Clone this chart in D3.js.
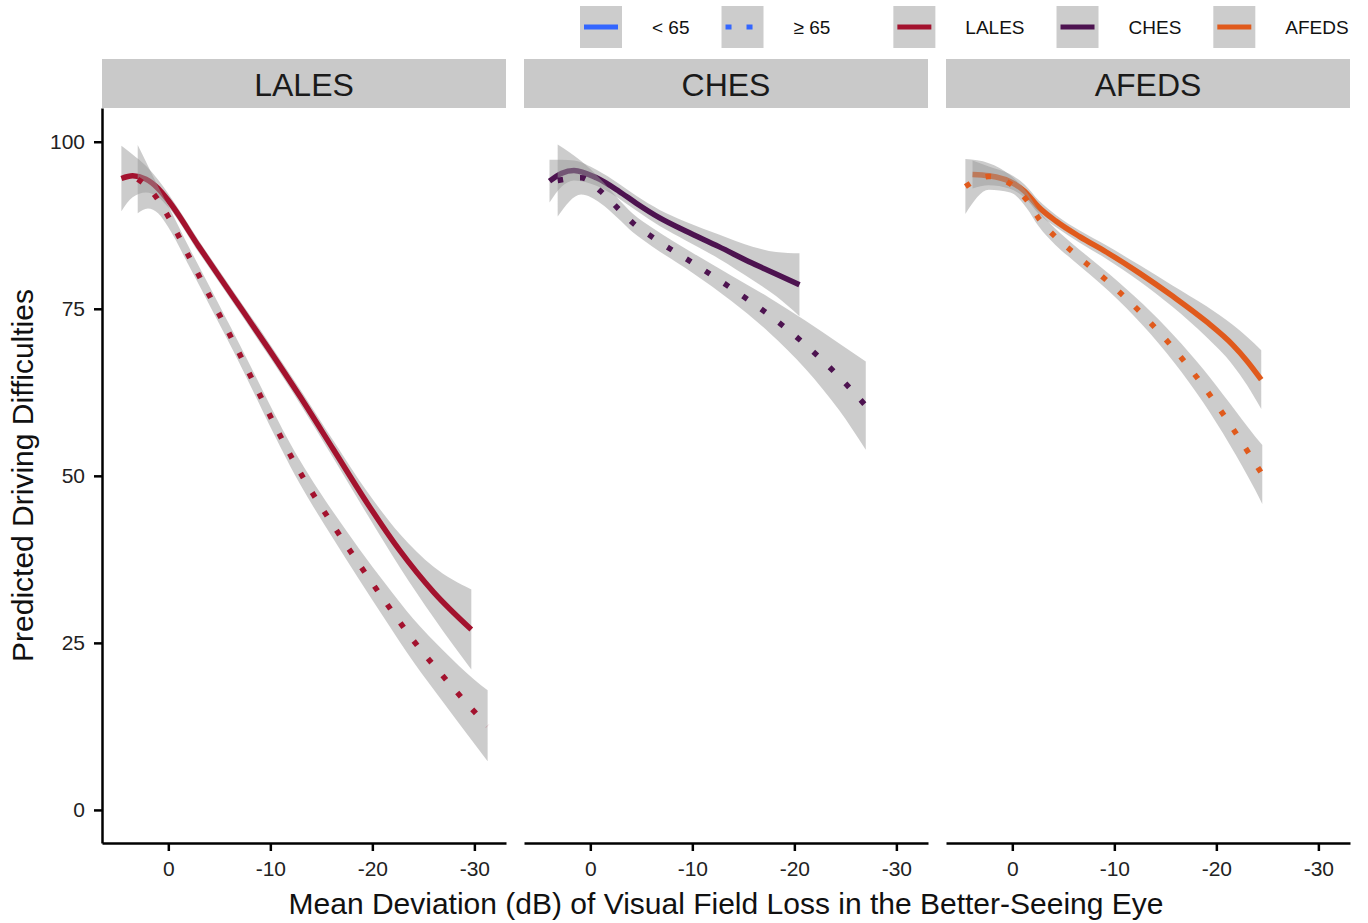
<!DOCTYPE html>
<html>
<head>
<meta charset="utf-8">
<script src="https://cdn.jsdelivr.net/npm/d3@7"></script>
<style>
  html, body { margin: 0; padding: 0; background: #ffffff; }
  svg { display: block; font-family: "Liberation Sans", Arial, Helvetica, sans-serif; }
</style>
</head>
<body>
<svg id="chart" width="1368" height="923"></svg>
<script>
// ---- data ---------------------------------------------------------------
const studies = ["LALES", "CHES", "AFEDS"];
const studyColors = ["#a3122e", "#4d1350", "#e05a1c"];
const ageGroups = ["< 65", "\u2265 65"];
const mdTicks = [0, -10, -20, -30];
const scoreTicks = [0, 25, 50, 75, 100];

// LALES, age < 65
const lalesYoungMD  = [4.6, 3.5, 2.2, 1.0, 0, -3, -6.4, -9.7, -12.9, -16.2, -19.5, -22.7, -26, -29.7];
const lalesYoungFit = [94.5, 94.9, 94.4, 93.0, 91.2, 84.3, 76.7, 69.3, 61.9, 53.9, 45.9, 38.8, 32.6, 27.0];
const lalesYoungSE  = [4.9, 3.2, 2.0, 1.3, 1.0, 0.9, 0.9, 1.0, 1.1, 1.3, 1.7, 2.5, 3.8, 6.0];
// LALES, age >= 65
const lalesOldMD  = [3.0, 2.0, 1.0, 0, -2.1, -4.4, -6.4, -8.4, -10.4, -12, -13.7, -16.2, -18.7, -21.3, -24, -27, -30, -31.3];
const lalesOldFit = [94.4, 93.2, 91.3, 88.8, 82.6, 75.9, 70.0, 63.9, 57.7, 53.0, 48.5, 42.5, 36.8, 31.1, 25.4, 19.9, 14.7, 12.6];
const lalesOldSE  = [5.1, 3.2, 2.0, 1.6, 1.4, 1.4, 1.4, 1.5, 1.6, 1.7, 1.8, 2.0, 2.3, 2.7, 3.2, 3.9, 4.8, 5.3];

// CHES, age < 65
const chesYoungMD  = [4.0, 2.8, 1.6, -0.6, -2.8, -4.5, -6.8, -9.4, -12.6, -15.9, -18.2, -20.5];
const chesYoungFit = [94.1, 95.3, 95.7, 94.6, 92.6, 90.8, 88.6, 86.6, 84.3, 81.8, 80.2, 78.6];
const chesYoungSE  = [3.2, 2.0, 1.5, 1.2, 1.1, 1.1, 1.2, 1.4, 1.8, 2.5, 3.3, 4.7];
// CHES, age >= 65
const chesOldMD  = [3.2, 0.9, -1.0, -2.6, -4.2, -6.1, -10, -13.8, -17.5, -21.1, -24.4, -27];
const chesOldFit = [94.2, 94.6, 92.6, 90.2, 87.8, 85.7, 81.9, 78.1, 74.1, 69.6, 64.8, 60.5];
const chesOldSE  = [5.4, 2.5, 1.8, 1.5, 1.4, 1.4, 1.5, 1.9, 2.6, 3.6, 5.0, 6.6];

// AFEDS, age < 65
const afedsYoungMD  = [3.9, 2.3, 0.3, -1.2, -2.6, -4.3, -6.6, -9.2, -12.5, -15.7, -19.0, -21.6, -23.0, -24.4];
const afedsYoungFit = [95.1, 94.9, 94.1, 92.6, 90.2, 88.1, 85.8, 83.5, 80.3, 76.9, 73.1, 69.6, 67.2, 64.4];
const afedsYoungSE  = [2.1, 1.4, 1.1, 1.0, 1.0, 0.9, 0.9, 1.0, 1.2, 1.6, 2.3, 3.0, 3.6, 4.4];
// AFEDS, age >= 65
const afedsOldMD  = [4.6, 2.3, 0.2, -1.4, -2.6, -4.2, -6.0, -9.5, -12.8, -15.9, -18.7, -21.3, -23.8, -24.5];
const afedsOldFit = [93.3, 94.8, 93.7, 91.3, 88.5, 85.8, 83.4, 78.9, 74.1, 68.9, 63.5, 57.8, 51.9, 50.2];
const afedsOldSE  = [4.1, 2.0, 1.3, 1.2, 1.2, 1.2, 1.2, 1.3, 1.6, 2.0, 2.5, 3.1, 4.0, 4.4];

// ---- assemble per-panel series -------------------------------------------
function series(md, fit, se) {
  return md.map((m, i) => ({ md: m, fit: fit[i], lo: fit[i] - se[i], hi: fit[i] + se[i] }));
}
const panels = [
  { study: studies[0], color: studyColors[0],
    young: series(lalesYoungMD, lalesYoungFit, lalesYoungSE),
    old: series(lalesOldMD, lalesOldFit, lalesOldSE) },
  { study: studies[1], color: studyColors[1],
    young: series(chesYoungMD, chesYoungFit, chesYoungSE),
    old: series(chesOldMD, chesOldFit, chesOldSE) },
  { study: studies[2], color: studyColors[2],
    young: series(afedsYoungMD, afedsYoungFit, afedsYoungSE),
    old: series(afedsOldMD, afedsOldFit, afedsOldSE) }
];

// ---- layout --------------------------------------------------------------
const svg = d3.select("#chart");
const panelLeft = 102, panelWidth = 404, panelGap = 18;
const plotTop = 108, plotBottom = 843;
const stripTop = 59;
const font = "\"Liberation Sans\", Arial, Helvetica, sans-serif";

const yScale = d3.scaleLinear().domain([-4.95, 105.05]).range([plotBottom, plotTop]);

const ribbonFill = "#999999", ribbonOpacity = 0.5;
const lineWidth = 5.5;
const dotted = "5.5,17";

panels.forEach((p, i) => {
  const x0 = panelLeft + i * (panelWidth + panelGap);
  const xScale = d3.scaleLinear().domain([6.5, -33.1]).range([x0, x0 + panelWidth]);
  const g = svg.append("g");

  // facet strip
  g.append("rect")
    .attr("x", x0).attr("y", stripTop)
    .attr("width", panelWidth).attr("height", plotTop - stripTop)
    .attr("fill", "#c9c9c9");
  g.append("text")
    .attr("x", x0 + panelWidth / 2).attr("y", (stripTop + plotTop) / 2 + 1)
    .attr("text-anchor", "middle").attr("dominant-baseline", "central")
    .attr("font-size", 32).attr("fill", "#1a1a1a")
    .text(p.study);

  const area = d3.area()
    .x(d => xScale(d.md)).y0(d => yScale(d.lo)).y1(d => yScale(d.hi))
    .curve(d3.curveMonotoneX);
  const line = d3.line()
    .x(d => xScale(d.md)).y(d => yScale(d.fit))
    .curve(d3.curveMonotoneX);

  // each age group: confidence band, then fitted curve
  [["young", null], ["old", dotted]].forEach(([key, dash]) => {
    g.append("path").datum(p[key])
      .attr("d", area)
      .attr("fill", ribbonFill).attr("fill-opacity", ribbonOpacity);
    g.append("path").datum(p[key])
      .attr("d", line)
      .attr("fill", "none").attr("stroke", p.color)
      .attr("stroke-width", lineWidth)
      .attr("stroke-linecap", "butt")
      .attr("stroke-dasharray", dash);
  });

  // x axis
  const xAxis = g.append("g")
    .attr("transform", `translate(0,${plotBottom})`)
    .call(d3.axisBottom(xScale).tickValues(mdTicks).tickSize(8).tickSizeOuter(0).tickPadding(10)
      .tickFormat(d => String(d)));
  xAxis.select(".domain").attr("stroke", "#000").attr("stroke-width", 2.5);
  xAxis.selectAll(".tick line").attr("stroke", "#000").attr("stroke-width", 2.5);
  xAxis.selectAll(".tick text").attr("font-size", 21).attr("font-family", font).attr("fill", "#222");

  // y axis only on the first panel
  if (i === 0) {
    const yAxis = g.append("g")
      .attr("transform", `translate(${x0},0)`)
      .call(d3.axisLeft(yScale).tickValues(scoreTicks).tickSize(8).tickSizeOuter(0).tickPadding(9));
    yAxis.select(".domain").attr("stroke", "#000").attr("stroke-width", 2.5);
    yAxis.selectAll(".tick line").attr("stroke", "#000").attr("stroke-width", 2.5);
    yAxis.selectAll(".tick text").attr("font-size", 21).attr("font-family", font).attr("fill", "#222");
  }
});

// ---- axis titles ---------------------------------------------------------
const plotRight = panelLeft + 3 * panelWidth + 2 * panelGap;
svg.append("text")
  .attr("x", (panelLeft + plotRight) / 2).attr("y", 903)
  .attr("text-anchor", "middle").attr("dominant-baseline", "central")
  .attr("font-size", 30).attr("fill", "#111")
  .text("Mean Deviation (dB) of Visual Field Loss in the Better-Seeing Eye");
svg.append("text")
  .attr("transform", `translate(22,${(plotTop + plotBottom) / 2}) rotate(-90)`)
  .attr("text-anchor", "middle").attr("dominant-baseline", "central")
  .attr("font-size", 30).attr("fill", "#111")
  .text("Predicted Driving Difficulties");

// ---- legend --------------------------------------------------------------
const legendItems = [
  { label: ageGroups[0], color: "#3366ff", dash: null, groupStart: true },
  { label: ageGroups[1], color: "#3366ff", dash: "6,15", groupStart: false },
  { label: studies[0], color: studyColors[0], dash: null, groupStart: true },
  { label: studies[1], color: studyColors[1], dash: null, groupStart: false },
  { label: studies[2], color: studyColors[2], dash: null, groupStart: false }
];
const keySize = 42, keyTop = 6, legendLeft = 580;
const keyTextGap = 30, itemGap = 32, groupGap = 63;
const legend = svg.append("g");
let cursor = legendLeft;
legendItems.forEach((item, k) => {
  if (k > 0) cursor += item.groupStart ? groupGap : itemGap;
  const kx = cursor;
  legend.append("rect")
    .attr("x", kx).attr("y", keyTop).attr("width", keySize).attr("height", keySize)
    .attr("fill", ribbonFill).attr("fill-opacity", ribbonOpacity);
  legend.append("line")
    .attr("x1", kx + 4).attr("x2", kx + keySize - 4)
    .attr("y1", keyTop + keySize / 2).attr("y2", keyTop + keySize / 2)
    .attr("stroke", item.color).attr("stroke-width", 5)
    .attr("stroke-dasharray", item.dash);
  const t = legend.append("text")
    .attr("x", kx + keySize + keyTextGap).attr("y", keyTop + keySize / 2)
    .attr("dominant-baseline", "central")
    .attr("font-size", 19).attr("fill", "#111")
    .text(item.label);
  cursor = kx + keySize + keyTextGap + t.node().getComputedTextLength();
});
</script>
</body>
</html>
